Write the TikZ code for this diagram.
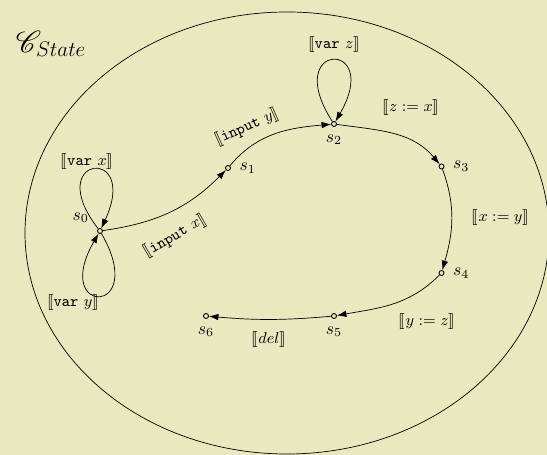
\documentclass[tikz,border=0pt]{standalone}
\usepackage{amssymb}
\usepackage{stmaryrd}
\usepackage{mathrsfs}
\usetikzlibrary{arrows.meta,positioning,calc}
\definecolor{statebg}{RGB}{233,233,192}
\newcommand{\sem}[1]{\llbracket #1\rrbracket}

\begin{document}
\begin{tikzpicture}[font=\small, >={Latex[length=1.9mm,width=1.3mm]},
  st/.style={circle, draw, fill=statebg, inner sep=0pt, minimum size=1mm,
             line width=0.5pt},
  lbl/.style={font=\small, inner sep=1pt}]
\fill[statebg] (0,0) rectangle (10.94,9.1);
\useasboundingbox (0,0) rectangle (10.94,9.1);
\draw (5.74,4.44) ellipse [x radius=5.24, y radius=4.42];
\node[font=\LARGE] (title) at (1.02,8.22) {$\mathscr{C}_{State}$};
% states
\node[st, label={[font=\normalsize, label distance=0.5mm]160:$s_0$}] (s0) at (2.0,4.48) {};
\node[st, label={[font=\normalsize, label distance=0.5mm]right:$s_1$}] (s1) at (4.56,5.74) {};
\node[st, label={[font=\normalsize, label distance=0.3mm]below:$s_2$}] (s2) at (6.68,6.62) {};
\node[st, label={[font=\normalsize, label distance=0.5mm]right:$s_3$}] (s3) at (8.83,5.77) {};
\node[st, label={[font=\normalsize, label distance=0.5mm]right:$s_4$}] (s4) at (8.83,3.64) {};
\node[st, label={[font=\normalsize, label distance=0.3mm]below:$s_5$}] (s5) at (6.68,2.78) {};
\node[st, label={[font=\normalsize, label distance=0.3mm]below:$s_6$}] (s6) at (4.12,2.78) {};
% transitions
\draw[->] (s0) to[out=128, in=65, min distance=1.86cm] (s0);
\draw[->] (s0) to[out=-60, in=-120, min distance=1.92cm] (s0);
\draw[->] (s0) to[out=8, in=225] (s1);
\draw[->] (s1) to[out=50, in=185] (s2);
\draw[->] (s2) to[out=123, in=60, min distance=1.92cm] (s2);
\draw[->] (s2) to[out=-8, in=130] (s3);
\draw[->] (s3) to[out=-70, in=74] (s4);
\draw[->] (s4) to[out=225, in=10] (s5);
\draw[->] (s5) to[bend left=5] (s6);
% labels
\node[lbl] (lvarx) at (1.74,5.86) {$\sem{\texttt{var}\ x}$};
\node[lbl] (lvary) at (1.46,3.04) {$\sem{\texttt{var}\ y}$};
\node[lbl, rotate=30] (linx) at (3.5,4.38) {$\sem{\texttt{input}\ x}$};
\node[lbl, rotate=24] (liny) at (4.94,6.56) {$\sem{\texttt{input}\ y}$};
\node[lbl] (lvarz) at (6.68,8.2) {$\sem{\texttt{var}\ z}$};
\node[lbl] (lzx) at (8.22,6.94) {$\sem{z := x}$};
\node[lbl] (lxy) at (10.01,4.74) {$\sem{x := y}$};
\node[lbl] (lyz) at (8.54,2.66) {$\sem{y := z}$};
\node[lbl] (ldel) at (5.38,2.3) {$\sem{del}$};
\end{tikzpicture}
\end{document}
